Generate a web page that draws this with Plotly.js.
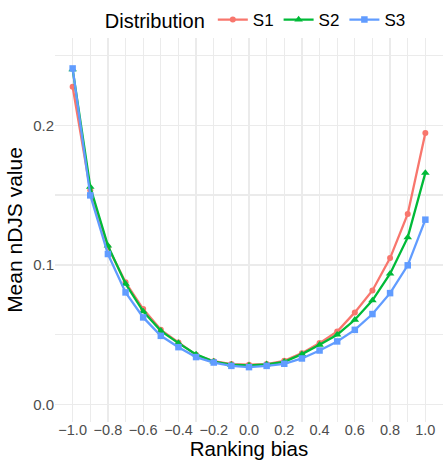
<!DOCTYPE html>
<html>
<head>
<meta charset="utf-8">
<script src="https://cdn.plot.ly/plotly-3.0.1.min.js"></script>
<style>html,body{margin:0;padding:0;background:#fff;}#chart{width:445px;height:460px;}</style>
</head>
<body>
<div id="chart"></div>
<script>
const rankingBias = [-1.0,-0.9,-0.8,-0.7,-0.6,-0.5,-0.4,-0.3,-0.2,-0.1,0.0,0.1,0.2,0.3,0.4,0.5,0.6,0.7,0.8,0.9,1.0];
const seriesNames = ["S1","S2","S3"];
const s1 = [0.2275,0.1534,0.1128,0.0875,0.0684,0.0535,0.0445,0.0356,0.0310,0.0290,0.0285,0.0290,0.0313,0.0368,0.0440,0.0523,0.0660,0.0817,0.1049,0.1365,0.1945];
const s2 = [0.2400,0.1558,0.1138,0.0865,0.0667,0.0528,0.0440,0.0359,0.0308,0.0285,0.0280,0.0288,0.0306,0.0361,0.0428,0.0500,0.0607,0.0746,0.0937,0.1197,0.1659];
const s3 = [0.2407,0.1498,0.1078,0.0803,0.0624,0.0492,0.0411,0.0340,0.0301,0.0277,0.0268,0.0277,0.0292,0.0330,0.0387,0.0452,0.0535,0.0648,0.0798,0.0997,0.1324];
const colors = ["#F8766D","#00BA38","#619CFF"];
const symbols = ["circle","triangle-up","square"];
const sizes = [6,7.5,6.5];
const values = [s1,s2,s3];

const FONT = "Liberation Sans, Arial, sans-serif";
const traces = values.map((v,i)=>({
  type:"scatter", mode:"lines+markers", name:seriesNames[i],
  x:rankingBias, y:v,
  line:{color:colors[i], width:2.3},
  marker:{color:colors[i], symbol:symbols[i], size:sizes[i]}
}));

const layout = {
  width:445, height:460,
  margin:{l:55, r:2, t:38, b:38},
  paper_bgcolor:"#fff", plot_bgcolor:"#fff",
  font:{family:FONT, color:"#000"},
  showlegend:true,
  legend:{
    orientation:"h", x:0.52, xanchor:"center", y:1.0, yanchor:"bottom",
    title:{text:"Distribution", side:"left", font:{size:20, color:"#000", family:FONT}},
    font:{size:17, color:"#000", family:FONT},
    itemwidth:30, tracegroupgap:0, bgcolor:"rgba(0,0,0,0)"
  },
  xaxis:{
    range:[-1.1,1.1], dtick:0.2, tick0:0, tickformat:".1f",
    showgrid:true, gridcolor:"#EBEBEB", gridwidth:1.3,
    minor:{dtick:0.1, tick0:0, showgrid:true, gridcolor:"#EBEBEB", gridwidth:1.3},
    zeroline:false, showline:false, ticks:"", ticklabelstandoff:-3,
    tickfont:{size:14.5, color:"#4D4D4D", family:FONT},
    title:{text:"Ranking bias", font:{size:20.5, color:"#000", family:FONT}, standoff:6},
    automargin:false
  },
  yaxis:{
    range:[-0.0125,0.2625], dtick:0.1, tick0:0, tickformat:".1f",
    showgrid:true, gridcolor:"#EBEBEB", gridwidth:1.3,
    minor:{dtick:0.05, tick0:0, showgrid:true, gridcolor:"#EBEBEB", gridwidth:1.3},
    zeroline:false, showline:false, ticks:"",
    tickfont:{size:15, color:"#4D4D4D", family:FONT},
    title:{text:"Mean nDJS value", font:{size:21, color:"#000", family:FONT}, standoff:4},
    automargin:false
  }
};
Plotly.newPlot("chart", traces, layout, {displayModeBar:false, staticPlot:true});
</script>
</body>
</html>
